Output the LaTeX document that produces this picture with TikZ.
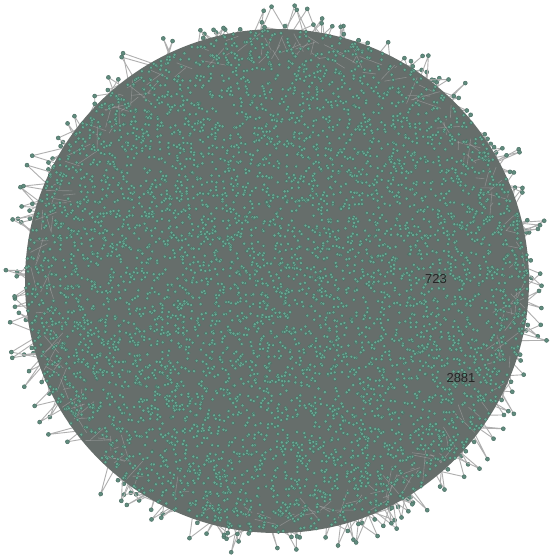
\documentclass[tikz,border=0pt]{standalone}
\usepackage{fontspec}
\setmainfont{Liberation Sans}
\definecolor{coregray}{RGB}{102,110,107}
\definecolor{edgegray}{RGB}{175,175,175}
\definecolor{dotteal}{RGB}{104,170,148}
\definecolor{dotrim}{RGB}{78,112,102}
\definecolor{fringeteal}{RGB}{96,140,126}
\begin{document}
\begin{tikzpicture}[x=1pt,y=-1pt,
  dotstyle/.style={fill=dotteal,draw=dotrim,line width=0.5pt},
  fringedot/.style={fill=fringeteal,draw=dotrim,line width=0.5pt},
  fringeedge/.style={draw=edgegray,line width=0.9pt},
  lbl/.style={font=\fontsize{13pt}{13pt}\selectfont,text=black!85,inner sep=0pt}]
\useasboundingbox (0,0) rectangle (555,555);
\fill[white] (0,0) rectangle (555,555);
\pgfmathsetseed{4242}
\begin{scope}[shift={(277,281)}]
% fringe edges and nodes
\foreach \i in {1,...,200}{
  \pgfmathsetmacro\a{360*rnd}
  \pgfmathsetmacro\r{254+24*rnd^1.8}
  \pgfmathsetmacro\b{\a+(rnd-0.5)*8}
  \pgfmathsetmacro\s{232+18*rnd}
  \pgfmathsetmacro\c{\a+(rnd-0.5)*10}
  \pgfmathsetmacro\t{238+14*rnd}
  \draw[fringeedge] (\b:\s) -- (\a:\r) -- (\c:\t);
  \fill[fringedot] (\a:\r) circle (2);
}
% core disk
\fill[coregray] (0,0) circle (252);
% inner edges near rim
\foreach \i in {1,...,220}{
  \pgfmathsetmacro\a{360*rnd}
  \pgfmathsetmacro\b{\a+(rnd-0.5)*12}
  \pgfmathsetmacro\r{226+24*rnd}
  \pgfmathsetmacro\s{218+30*rnd}
  \draw[edgegray,line width=0.6pt,opacity=0.5] (\a:\r) -- (\b:\s);
}
% core dots
\foreach \i in {1,...,5600}{
  \pgfmathsetmacro\a{360*rnd}
  \pgfmathsetmacro\r{251*sqrt(rnd)}
  \filldraw[dotstyle] (\a:\r) circle (1.9);
}
\end{scope}
\node[lbl] (l723) at (436,279) {723};
\node[lbl] (l2881) at (461,378) {2881};
\end{tikzpicture}
\end{document}
